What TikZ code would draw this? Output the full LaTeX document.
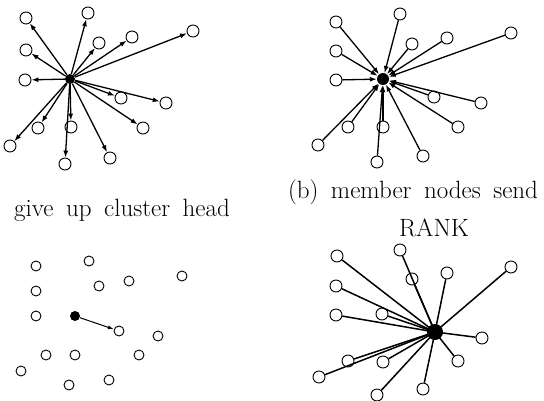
\documentclass[tikz,border=0pt]{standalone}
\usepackage{tikz}
\usetikzlibrary{arrows.meta}

\newcommand\capfont{\fontsize{25}{29}\selectfont\spaceskip=0.5em\relax}

\tikzset{
  member/.style={draw, circle, inner sep=0pt, minimum size=12pt, line width=0.9pt, fill=white},
  small member/.style={member, minimum size=10pt},
  head/.style={circle, fill=black, inner sep=0pt, minimum size=10pt},
  send/.style={line width=1.3pt, -{Latex[length=7pt,width=5pt]}},
  caption/.style={font=\capfont, inner sep=0pt}
}

\begin{document}
\begin{tikzpicture}[x=1pt,y=-1pt]
  \useasboundingbox (0,0) rectangle (544,400);

  % top left: head sends to every member
  \node[head] (ha) at (70,79) {};
  \foreach \x/\y [count=\i] in {26/18, 88/13, 26/50, 99/43, 132/37, 193/31, 25/80,
      121/98, 166/103, 38/128, 71/127, 143/128, 10/146, 65/164, 110/158}
    \node[member] (a\i) at (\x,\y) {};
  \foreach \i in {1,...,15}
    \draw[send] (ha) -- (a\i);

  % top right: members answer
  \node[head, minimum size=12pt] (hb) at (383,79) {};
  \foreach \x/\y [count=\i] in {336/22, 400/14, 336/51, 412/44, 447/38, 511/33, 336/80,
      434/97, 481/103, 348/127, 383/127, 458/127, 318/145, 377/162, 423/156}
    \node[member] (b\i) at (\x,\y) {};
  \foreach \i in {1,...,15}
    \draw[send] (b\i) -- (hb);

  \node[caption] (capa) at (122,210) {give up cluster head};
  \node[caption] (capb) at (413,192) {(b) member nodes send};
  \node[caption] (capc) at (434,228) {RANK};

  % bottom left
  \node[head] (hc) at (75,316) {};
  \foreach \x/\y [count=\i] in {36/266, 89/261, 36/291, 99/286, 129/281, 182/276, 36/316,
      119/331, 158/336, 46/355, 75/355, 139/355, 21/371, 69/385, 109/380}
    \node[small member] (c\i) at (\x,\y) {};
  \draw[line width=1pt, -{Latex[length=6pt,width=4pt]}] (hc) -- (c8);

  % bottom right
  \node[head, minimum size=16pt] (hd) at (435,332) {};
  \foreach \x/\y [count=\i] in {337/256, 400/250, 336/286, 412/279, 447/273, 511/267, 336/315,
      382/314, 482/338, 348/361, 383/362, 458/361, 319/377, 377/395, 423/389}
    \node[member] (d\i) at (\x,\y) {};
  \foreach \i in {1,...,15}
    \draw[line width=1.5pt] (d\i) -- (hd.center);
\end{tikzpicture}
\end{document}
